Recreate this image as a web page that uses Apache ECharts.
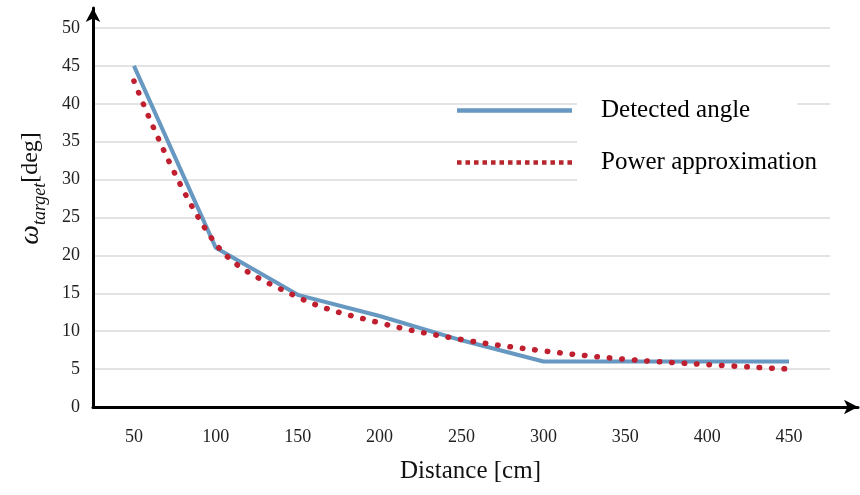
<!DOCTYPE html>
<html>
<head>
<meta charset="utf-8">
<script src="https://cdn.jsdelivr.net/npm/echarts@6/dist/echarts.min.js"></script>
<style>
html,body{margin:0;padding:0;background:#fff;}
#chart{width:860px;height:495px;}
</style>
</head>
<body>
<div id="chart"></div>
<script>
const distances = ['50','100','150','200','250','300','350','400','450'];
const detectedAngle = [45, 21, 14.8, 12, 8.8, 6, 6, 6, 6];
const powerApprox = [43, 21.5, 14.5, 11.1, 8.9, 7.4, 6.3, 5.6, 5.0];
const seriesNames = ['Detected angle', 'Power approximation'];

const FONT = '"Liberation Serif", "Times New Roman", serif';

// legend icon shapes (styling only)
const solidIcon = 'path://M0,0H115V4.5H0Z';
let dotted = 'path://';
for (let i = 0; i < 14; i++) {
  const x = (i * 8.4).toFixed(2);
  dotted += 'M' + x + ',0h4.5v4.5h-4.5Z';
}

const chart = echarts.init(document.getElementById('chart'), null, {renderer: 'canvas'});

chart.setOption({
  backgroundColor: '#fff',
  animation: false,
  textStyle: {fontFamily: FONT},
  grid: [
    {left: 93, right: 30, top: 28, bottom: 88, outerBoundsMode: 'none', containLabel: false},
    {left: 93, right: 2, top: 8, bottom: 88, outerBoundsMode: 'none', containLabel: false}
  ],
  legend: {
    orient: 'vertical',
    left: 457,
    top: 94,
    padding: 0,
    itemWidth: 115,
    itemHeight: 14,
    itemGap: 12,
    data: [
      {name: seriesNames[0], icon: solidIcon, itemStyle: {color: '#6798c1'}},
      {name: seriesNames[1], icon: dotted, itemStyle: {color: '#b5262d'}}
    ],
    formatter: function (name) {
      return name === seriesNames[0] ? '{a|' + name + '}' : '{b|' + name + '}';
    },
    textStyle: {
      fontFamily: FONT,
      fontSize: 25,
      color: '#000',
      rich: {
        a: {fontFamily: FONT, fontSize: 25, color: '#000', backgroundColor: '#fff', padding: [4, 47, 4, 24]},
        b: {fontFamily: FONT, fontSize: 25, color: '#000', backgroundColor: '#fff', padding: [11, 18, 11, 24]}
      }
    }
  },
  xAxis: [
    {
      type: 'category',
      gridIndex: 0,
      data: distances,
      boundaryGap: true,
      axisLine: {show: false},
      axisTick: {show: false},
      splitLine: {show: false},
      axisLabel: {fontFamily: FONT, fontSize: 18, color: '#222', margin: 21},
      name: 'Distance [cm]',
      nameLocation: 'middle',
      nameGap: 52,
      nameTextStyle: {fontFamily: FONT, fontSize: 25, color: '#111', padding: [0, 0, 0, 18]}
    },
    {
      type: 'value',
      gridIndex: 1,
      min: 0,
      max: 1,
      axisLine: {show: true, lineStyle: {color: '#000', width: 3}, symbol: ['none', 'arrow'], symbolSize: [11, 14]},
      axisTick: {show: false},
      axisLabel: {show: false},
      splitLine: {show: false}
    }
  ],
  yAxis: [
    {
      type: 'value',
      gridIndex: 0,
      min: 0,
      max: 50,
      interval: 5,
      axisLine: {show: false},
      axisTick: {show: false},
      axisLabel: {fontFamily: FONT, fontSize: 18, color: '#222', margin: 13},
      splitLine: {show: true, lineStyle: {color: '#dadada', width: 1.5}},
      name: '{w|ω}{s|target}{d|[deg]}',
      nameLocation: 'middle',
      nameRotate: 90,
      nameGap: 44,
      nameTextStyle: {
        padding: [0, 0, 0, 58],
        rich: {
          w: {fontFamily: FONT, fontSize: 28, fontStyle: 'italic', color: '#111', lineHeight: 36, verticalAlign: 'middle'},
          s: {fontFamily: FONT, fontSize: 18, fontStyle: 'italic', color: '#111', lineHeight: 20, verticalAlign: 'bottom'},
          d: {fontFamily: FONT, fontSize: 24, color: '#111', lineHeight: 36, verticalAlign: 'middle'}
        }
      }
    },
    {
      type: 'value',
      gridIndex: 1,
      min: 0,
      max: 1,
      axisLine: {show: true, lineStyle: {color: '#000', width: 3}, symbol: ['none', 'arrow'], symbolSize: [11, 14]},
      axisTick: {show: false},
      axisLabel: {show: false},
      splitLine: {show: false}
    }
  ],
  series: [
    {
      name: seriesNames[0],
      type: 'line',
      xAxisIndex: 0,
      yAxisIndex: 0,
      data: detectedAngle,
      symbol: 'none',
      lineStyle: {color: '#6798c1', width: 4},
      itemStyle: {color: '#6798c1'},
      z: 3
    },
    {
      name: seriesNames[1],
      type: 'line',
      xAxisIndex: 0,
      yAxisIndex: 0,
      data: powerApprox,
      symbol: 'none',
      smooth: 0.35,
      lineStyle: {color: '#bf1f2e', width: 5.5, type: [0.5, 12], cap: 'round'},
      itemStyle: {color: '#bf1f2e'},
      z: 4
    }
  ]
});
</script>
</body>
</html>
